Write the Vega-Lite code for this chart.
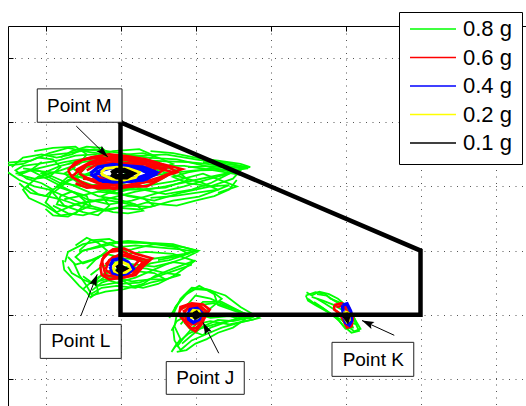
{
  "$schema": "https://vega.github.io/schema/vega-lite/v6.json",
  "width": 525,
  "height": 385,
  "autosize": {"type": "none"},
  "padding": {"left": 8, "top": 26, "right": 0, "bottom": 0},
  "background": "white",
  "config": {
    "view": {"stroke": "black", "strokeWidth": 1},
    "axis": {"title": null, "labels": false, "domain": false, "ticks": true, "tickSize": -5, "tickColor": "black", "tickWidth": 1, "grid": true, "gridDash": [1, 5.5], "gridColor": "#555", "gridWidth": 1}
  },
  "datasets": {
    "tr": [
      {"s":"0.8 g","p":"M1","x":-0.5,"y":3.37},{"s":"0.8 g","p":"M1","x":-0.2,"y":3.4},{"s":"0.8 g","p":"M1","x":0.05,"y":3.52},{"s":"0.8 g","p":"M1","x":0.3,"y":3.6},{"s":"0.8 g","p":"M1","x":0.5,"y":3.55},{"s":"0.8 g","p":"M1","x":0.8,"y":3.5},{"s":"0.8 g","p":"M1","x":1.2,"y":3.47},{"s":"0.8 g","p":"M1","x":1.6,"y":3.5},{"s":"0.8 g","p":"M1","x":2.0,"y":3.42},{"s":"0.8 g","p":"M1","x":2.4,"y":3.35},{"s":"0.8 g","p":"M1","x":2.72,"y":3.3},{"s":"0.8 g","p":"M1","x":2.4,"y":3.2},{"s":"0.8 g","p":"M1","x":2.0,"y":3.1},{"s":"0.8 g","p":"M1","x":1.6,"y":3.0},{"s":"0.8 g","p":"M1","x":1.2,"y":2.92},{"s":"0.8 g","p":"M1","x":0.8,"y":2.8},{"s":"0.8 g","p":"M1","x":0.4,"y":2.72},{"s":"0.8 g","p":"M1","x":0.15,"y":2.6},{"s":"0.8 g","p":"M1","x":0.0,"y":2.75},{"s":"0.8 g","p":"M1","x":0.1,"y":2.95},{"s":"0.8 g","p":"M1","x":0.3,"y":3.1},{"s":"0.8 g","p":"M1","x":0.6,"y":3.2},
      {"s":"0.8 g","p":"M2","x":-0.15,"y":3.55},{"s":"0.8 g","p":"M2","x":0.1,"y":3.6},{"s":"0.8 g","p":"M2","x":0.4,"y":3.62},{"s":"0.8 g","p":"M2","x":0.55,"y":3.5},{"s":"0.8 g","p":"M2","x":0.45,"y":3.35},{"s":"0.8 g","p":"M2","x":0.2,"y":3.25},{"s":"0.8 g","p":"M2","x":-0.1,"y":3.15},{"s":"0.8 g","p":"M2","x":-0.25,"y":3.0},{"s":"0.8 g","p":"M2","x":-0.1,"y":2.88},{"s":"0.8 g","p":"M2","x":0.2,"y":2.8},{"s":"0.8 g","p":"M2","x":0.5,"y":2.68},{"s":"0.8 g","p":"M2","x":0.8,"y":2.62},{"s":"0.8 g","p":"M2","x":1.1,"y":2.7},{"s":"0.8 g","p":"M2","x":1.4,"y":2.68},{"s":"0.8 g","p":"M2","x":1.7,"y":2.78},{"s":"0.8 g","p":"M2","x":2.05,"y":2.84},{"s":"0.8 g","p":"M2","x":2.3,"y":2.95},{"s":"0.8 g","p":"M2","x":2.1,"y":3.05},{"s":"0.8 g","p":"M2","x":1.8,"y":3.15},{"s":"0.8 g","p":"M2","x":1.5,"y":3.25},{"s":"0.8 g","p":"M2","x":1.3,"y":3.38},{"s":"0.8 g","p":"M2","x":1.0,"y":3.42},{"s":"0.8 g","p":"M2","x":0.7,"y":3.4},
      {"s":"0.8 g","p":"M3","x":-0.4,"y":3.2},{"s":"0.8 g","p":"M3","x":-0.1,"y":3.28},{"s":"0.8 g","p":"M3","x":0.25,"y":3.38},{"s":"0.8 g","p":"M3","x":0.6,"y":3.45},{"s":"0.8 g","p":"M3","x":0.9,"y":3.55},{"s":"0.8 g","p":"M3","x":1.25,"y":3.58},{"s":"0.8 g","p":"M3","x":1.45,"y":3.48},{"s":"0.8 g","p":"M3","x":1.3,"y":3.35},{"s":"0.8 g","p":"M3","x":0.95,"y":3.3},{"s":"0.8 g","p":"M3","x":0.6,"y":3.22},{"s":"0.8 g","p":"M3","x":0.3,"y":3.08},{"s":"0.8 g","p":"M3","x":0.1,"y":2.9},{"s":"0.8 g","p":"M3","x":0.25,"y":2.7},{"s":"0.8 g","p":"M3","x":0.5,"y":2.6},{"s":"0.8 g","p":"M3","x":0.7,"y":2.55},{"s":"0.8 g","p":"M3","x":0.85,"y":2.7},{"s":"0.8 g","p":"M3","x":0.75,"y":2.85},{"s":"0.8 g","p":"M3","x":0.95,"y":2.95},{"s":"0.8 g","p":"M3","x":1.3,"y":3.0},{"s":"0.8 g","p":"M3","x":1.7,"y":3.08},{"s":"0.8 g","p":"M3","x":2.1,"y":3.2},{"s":"0.8 g","p":"M3","x":2.55,"y":3.0},{"s":"0.8 g","p":"M3","x":2.3,"y":2.9},
      {"s":"0.8 g","p":"M4","x":-0.2,"y":3.05},{"s":"0.8 g","p":"M4","x":-0.3,"y":2.95},{"s":"0.8 g","p":"M4","x":-0.22,"y":2.82},{"s":"0.8 g","p":"M4","x":0.0,"y":2.7},{"s":"0.8 g","p":"M4","x":0.2,"y":2.55},{"s":"0.8 g","p":"M4","x":0.4,"y":2.58},{"s":"0.8 g","p":"M4","x":0.55,"y":2.75},{"s":"0.8 g","p":"M4","x":0.4,"y":2.9},{"s":"0.8 g","p":"M4","x":0.15,"y":3.0},{"s":"0.8 g","p":"M4","x":0.3,"y":3.15},{"s":"0.8 g","p":"M4","x":0.55,"y":3.05},{"s":"0.8 g","p":"M4","x":0.8,"y":2.95},{"s":"0.8 g","p":"M4","x":1.1,"y":2.85},{"s":"0.8 g","p":"M4","x":1.45,"y":2.78},{"s":"0.8 g","p":"M4","x":1.8,"y":2.9},{"s":"0.8 g","p":"M4","x":2.2,"y":3.0},{"s":"0.8 g","p":"M4","x":2.5,"y":3.12},{"s":"0.8 g","p":"M4","x":2.6,"y":3.25},{"s":"0.8 g","p":"M4","x":2.3,"y":3.32},{"s":"0.8 g","p":"M4","x":1.9,"y":3.3},
      {"s":"0.8 g","p":"M5","x":0.0,"y":3.48},{"s":"0.8 g","p":"M5","x":0.3,"y":3.52},{"s":"0.8 g","p":"M5","x":0.65,"y":3.58},{"s":"0.8 g","p":"M5","x":1.0,"y":3.52},{"s":"0.8 g","p":"M5","x":1.35,"y":3.45},{"s":"0.8 g","p":"M5","x":1.75,"y":3.42},{"s":"0.8 g","p":"M5","x":2.2,"y":3.3},{"s":"0.8 g","p":"M5","x":2.5,"y":3.22},{"s":"0.8 g","p":"M5","x":2.2,"y":3.12},{"s":"0.8 g","p":"M5","x":1.85,"y":3.0},{"s":"0.8 g","p":"M5","x":1.5,"y":2.9},{"s":"0.8 g","p":"M5","x":1.15,"y":2.78},{"s":"0.8 g","p":"M5","x":0.85,"y":2.72},{"s":"0.8 g","p":"M5","x":0.55,"y":2.8},{"s":"0.8 g","p":"M5","x":0.3,"y":2.95},{"s":"0.8 g","p":"M5","x":0.05,"y":3.1},{"s":"0.8 g","p":"M5","x":-0.2,"y":3.25},{"s":"0.8 g","p":"M5","x":-0.05,"y":3.38},
      {"s":"0.8 g","p":"M6","x":0.6,"y":3.35},{"s":"0.8 g","p":"M6","x":1.0,"y":3.38},{"s":"0.8 g","p":"M6","x":1.4,"y":3.4},{"s":"0.8 g","p":"M6","x":1.9,"y":3.38},{"s":"0.8 g","p":"M6","x":2.35,"y":3.33},{"s":"0.8 g","p":"M6","x":2.7,"y":3.28},{"s":"0.8 g","p":"M6","x":2.45,"y":3.26},{"s":"0.8 g","p":"M6","x":2.0,"y":3.25},{"s":"0.8 g","p":"M6","x":1.6,"y":3.2},{"s":"0.8 g","p":"M6","x":1.2,"y":3.12},{"s":"0.8 g","p":"M6","x":0.85,"y":3.05},{"s":"0.8 g","p":"M6","x":0.5,"y":3.0},{"s":"0.8 g","p":"M6","x":0.2,"y":3.05},{"s":"0.8 g","p":"M6","x":-0.05,"y":3.2},{"s":"0.8 g","p":"M6","x":0.2,"y":3.32},{"s":"0.8 g","p":"M6","x":0.55,"y":3.42},{"s":"0.8 g","p":"M6","x":0.8,"y":3.52},
      {"s":"0.8 g","p":"M7","x":-0.5,"y":3.33},{"s":"0.8 g","p":"M7","x":-0.3,"y":3.35},{"s":"0.8 g","p":"M7","x":-0.1,"y":3.45},{"s":"0.8 g","p":"M7","x":0.1,"y":3.42},{"s":"0.8 g","p":"M7","x":0.2,"y":3.3},{"s":"0.8 g","p":"M7","x":0.05,"y":3.15},{"s":"0.8 g","p":"M7","x":-0.15,"y":3.12},{"s":"0.8 g","p":"M7","x":-0.35,"y":3.18},{"s":"0.8 g","p":"M7","x":-0.2,"y":3.25},{"s":"0.8 g","p":"M7","x":0.1,"y":3.22},{"s":"0.8 g","p":"M7","x":0.35,"y":3.18},{"s":"0.8 g","p":"M7","x":0.6,"y":3.1},{"s":"0.8 g","p":"M7","x":0.9,"y":3.15},
      {"s":"0.8 g","p":"M8","x":0.1,"y":2.7},{"s":"0.8 g","p":"M8","x":0.3,"y":2.58},{"s":"0.8 g","p":"M8","x":0.5,"y":2.55},{"s":"0.8 g","p":"M8","x":0.7,"y":2.62},{"s":"0.8 g","p":"M8","x":0.95,"y":2.67},{"s":"0.8 g","p":"M8","x":1.25,"y":2.64},{"s":"0.8 g","p":"M8","x":1.45,"y":2.7},{"s":"0.8 g","p":"M8","x":1.3,"y":2.82},{"s":"0.8 g","p":"M8","x":1.0,"y":2.88},{"s":"0.8 g","p":"M8","x":0.7,"y":2.92},{"s":"0.8 g","p":"M8","x":0.45,"y":2.85},{"s":"0.8 g","p":"M8","x":0.25,"y":2.8},
      {"s":"0.8 g","p":"M9","x":0.3,"y":3.35},{"s":"0.8 g","p":"M9","x":0.6,"y":3.45},{"s":"0.8 g","p":"M9","x":1.0,"y":3.47},{"s":"0.8 g","p":"M9","x":1.4,"y":3.35},{"s":"0.8 g","p":"M9","x":1.75,"y":3.25},{"s":"0.8 g","p":"M9","x":1.9,"y":3.1},{"s":"0.8 g","p":"M9","x":1.6,"y":2.98},{"s":"0.8 g","p":"M9","x":1.2,"y":2.95},{"s":"0.8 g","p":"M9","x":0.8,"y":2.95},{"s":"0.8 g","p":"M9","x":0.45,"y":3.05},{"s":"0.8 g","p":"M9","x":0.25,"y":3.2},{"s":"0.8 g","p":"M9","x":0.4,"y":3.3},
      {"s":"0.8 g","p":"M10","x":-0.45,"y":3.3},{"s":"0.8 g","p":"M10","x":-0.3,"y":3.45},{"s":"0.8 g","p":"M10","x":-0.05,"y":3.5},{"s":"0.8 g","p":"M10","x":0.15,"y":3.45},{"s":"0.8 g","p":"M10","x":0.35,"y":3.5},{"s":"0.8 g","p":"M10","x":0.5,"y":3.58},{"s":"0.8 g","p":"M10","x":0.75,"y":3.55},{"s":"0.8 g","p":"M10","x":0.95,"y":3.45},{"s":"0.8 g","p":"M10","x":1.1,"y":3.5},{"s":"0.8 g","p":"M10","x":1.3,"y":3.52},{"s":"0.8 g","p":"M10","x":1.5,"y":3.45},{"s":"0.8 g","p":"M10","x":1.7,"y":3.35},{"s":"0.8 g","p":"M10","x":1.55,"y":3.28},{"s":"0.8 g","p":"M10","x":1.3,"y":3.25},{"s":"0.8 g","p":"M10","x":1.05,"y":3.2},
      {"s":"0.8 g","p":"M11","x":0.0,"y":2.65},{"s":"0.8 g","p":"M11","x":0.1,"y":2.55},{"s":"0.8 g","p":"M11","x":0.3,"y":2.53},{"s":"0.8 g","p":"M11","x":0.45,"y":2.62},{"s":"0.8 g","p":"M11","x":0.6,"y":2.7},{"s":"0.8 g","p":"M11","x":0.55,"y":2.85},{"s":"0.8 g","p":"M11","x":0.35,"y":2.92},{"s":"0.8 g","p":"M11","x":0.2,"y":2.85},{"s":"0.8 g","p":"M11","x":0.15,"y":2.72},{"s":"0.8 g","p":"M11","x":0.3,"y":2.68},{"s":"0.8 g","p":"M11","x":0.5,"y":2.75},{"s":"0.8 g","p":"M11","x":0.75,"y":2.8},{"s":"0.8 g","p":"M11","x":1.0,"y":2.75},{"s":"0.8 g","p":"M11","x":1.2,"y":2.7},{"s":"0.8 g","p":"M11","x":1.35,"y":2.75},{"s":"0.8 g","p":"M11","x":1.55,"y":2.72},{"s":"0.8 g","p":"M11","x":1.75,"y":2.7},{"s":"0.8 g","p":"M11","x":2.0,"y":2.78},{"s":"0.8 g","p":"M11","x":2.25,"y":2.85},{"s":"0.8 g","p":"M11","x":2.45,"y":2.95},{"s":"0.8 g","p":"M11","x":2.55,"y":3.1},
      {"s":"0.8 g","p":"M12","x":-0.35,"y":3.05},{"s":"0.8 g","p":"M12","x":-0.2,"y":2.9},{"s":"0.8 g","p":"M12","x":0.0,"y":2.85},{"s":"0.8 g","p":"M12","x":0.1,"y":2.95},{"s":"0.8 g","p":"M12","x":-0.05,"y":3.05},{"s":"0.8 g","p":"M12","x":-0.25,"y":3.12},{"s":"0.8 g","p":"M12","x":-0.4,"y":3.25},{"s":"0.8 g","p":"M12","x":-0.3,"y":3.32},{"s":"0.8 g","p":"M12","x":-0.1,"y":3.35},{"s":"0.8 g","p":"M12","x":0.15,"y":3.4},{"s":"0.8 g","p":"M12","x":0.4,"y":3.48},{"s":"0.8 g","p":"M12","x":0.65,"y":3.5},{"s":"0.8 g","p":"M12","x":0.9,"y":3.42},{"s":"0.8 g","p":"M12","x":1.15,"y":3.38},{"s":"0.8 g","p":"M12","x":1.45,"y":3.32},{"s":"0.8 g","p":"M12","x":1.85,"y":3.32},{"s":"0.8 g","p":"M12","x":2.25,"y":3.25},{"s":"0.8 g","p":"M12","x":2.6,"y":3.18},
      {"s":"0.8 g","p":"M13","x":0.2,"y":3.45},{"s":"0.8 g","p":"M13","x":0.35,"y":3.55},{"s":"0.8 g","p":"M13","x":0.55,"y":3.62},{"s":"0.8 g","p":"M13","x":0.75,"y":3.6},{"s":"0.8 g","p":"M13","x":0.85,"y":3.5},{"s":"0.8 g","p":"M13","x":0.7,"y":3.42},{"s":"0.8 g","p":"M13","x":0.5,"y":3.38},{"s":"0.8 g","p":"M13","x":0.35,"y":3.3},{"s":"0.8 g","p":"M13","x":0.45,"y":3.2},{"s":"0.8 g","p":"M13","x":0.7,"y":3.15},{"s":"0.8 g","p":"M13","x":1.0,"y":3.05},{"s":"0.8 g","p":"M13","x":1.3,"y":2.95},{"s":"0.8 g","p":"M13","x":1.6,"y":2.88},{"s":"0.8 g","p":"M13","x":1.95,"y":2.95},{"s":"0.8 g","p":"M13","x":2.2,"y":3.05},{"s":"0.8 g","p":"M13","x":2.45,"y":3.2},{"s":"0.8 g","p":"M13","x":2.65,"y":3.3},{"s":"0.8 g","p":"M13","x":2.4,"y":3.38},{"s":"0.8 g","p":"M13","x":2.1,"y":3.38},
      {"s":"0.8 g","p":"M14","x":1.4,"y":3.55},{"s":"0.8 g","p":"M14","x":1.7,"y":3.52},{"s":"0.8 g","p":"M14","x":2.0,"y":3.45},{"s":"0.8 g","p":"M14","x":2.3,"y":3.4},{"s":"0.8 g","p":"M14","x":2.6,"y":3.35},{"s":"0.8 g","p":"M14","x":2.73,"y":3.3},{"s":"0.8 g","p":"M14","x":2.5,"y":3.3},{"s":"0.8 g","p":"M14","x":2.2,"y":3.28},{"s":"0.8 g","p":"M14","x":1.9,"y":3.22},{"s":"0.8 g","p":"M14","x":1.7,"y":3.15},{"s":"0.8 g","p":"M14","x":1.9,"y":3.05},{"s":"0.8 g","p":"M14","x":2.2,"y":3.0},{"s":"0.8 g","p":"M14","x":2.45,"y":3.02},{"s":"0.8 g","p":"M14","x":2.3,"y":2.95},{"s":"0.8 g","p":"M14","x":2.0,"y":2.9},{"s":"0.8 g","p":"M14","x":1.7,"y":2.85},{"s":"0.8 g","p":"M14","x":1.4,"y":2.82},
      {"s":"0.8 g","p":"M15","x":-0.5,"y":3.22},{"s":"0.8 g","p":"M15","x":-0.35,"y":3.1},{"s":"0.8 g","p":"M15","x":-0.15,"y":3.0},{"s":"0.8 g","p":"M15","x":0.05,"y":2.95},{"s":"0.8 g","p":"M15","x":0.25,"y":2.85},{"s":"0.8 g","p":"M15","x":0.45,"y":2.75},{"s":"0.8 g","p":"M15","x":0.65,"y":2.68},{"s":"0.8 g","p":"M15","x":0.9,"y":2.6},{"s":"0.8 g","p":"M15","x":1.1,"y":2.58},{"s":"0.8 g","p":"M15","x":1.3,"y":2.62},{"s":"0.8 g","p":"M15","x":1.2,"y":2.72},{"s":"0.8 g","p":"M15","x":0.95,"y":2.8},{"s":"0.8 g","p":"M15","x":0.7,"y":2.85},{"s":"0.8 g","p":"M15","x":0.5,"y":2.95},{"s":"0.8 g","p":"M15","x":0.3,"y":3.05},{"s":"0.8 g","p":"M15","x":0.1,"y":3.15},{"s":"0.8 g","p":"M15","x":-0.1,"y":3.25},{"s":"0.8 g","p":"M15","x":-0.3,"y":3.28},
      {"s":"0.8 g","p":"M16","x":0.55,"y":3.3},{"s":"0.8 g","p":"M16","x":0.8,"y":3.35},{"s":"0.8 g","p":"M16","x":1.1,"y":3.4},{"s":"0.8 g","p":"M16","x":1.35,"y":3.28},{"s":"0.8 g","p":"M16","x":1.6,"y":3.15},{"s":"0.8 g","p":"M16","x":1.45,"y":3.05},{"s":"0.8 g","p":"M16","x":1.2,"y":2.98},{"s":"0.8 g","p":"M16","x":0.95,"y":2.9},{"s":"0.8 g","p":"M16","x":0.7,"y":2.95},{"s":"0.8 g","p":"M16","x":0.5,"y":3.05},{"s":"0.8 g","p":"M16","x":0.4,"y":3.15},{"s":"0.8 g","p":"M16","x":0.55,"y":3.3},
      {"s":"0.8 g","p":"L1","x":0.26,"y":1.82},{"s":"0.8 g","p":"L1","x":0.3,"y":1.98},{"s":"0.8 g","p":"L1","x":0.5,"y":2.1},{"s":"0.8 g","p":"L1","x":0.75,"y":2.15},{"s":"0.8 g","p":"L1","x":0.95,"y":2.05},{"s":"0.8 g","p":"L1","x":1.2,"y":2.08},{"s":"0.8 g","p":"L1","x":1.5,"y":2.05},{"s":"0.8 g","p":"L1","x":1.8,"y":2.02},{"s":"0.8 g","p":"L1","x":2.02,"y":1.98},{"s":"0.8 g","p":"L1","x":1.85,"y":1.88},{"s":"0.8 g","p":"L1","x":1.6,"y":1.78},{"s":"0.8 g","p":"L1","x":1.4,"y":1.68},{"s":"0.8 g","p":"L1","x":1.2,"y":1.58},{"s":"0.8 g","p":"L1","x":0.95,"y":1.5},{"s":"0.8 g","p":"L1","x":0.7,"y":1.45},{"s":"0.8 g","p":"L1","x":0.5,"y":1.55},{"s":"0.8 g","p":"L1","x":0.35,"y":1.65},{"s":"0.8 g","p":"L1","x":0.3,"y":1.75},
      {"s":"0.8 g","p":"L2","x":0.45,"y":2.0},{"s":"0.8 g","p":"L2","x":0.6,"y":2.16},{"s":"0.8 g","p":"L2","x":0.85,"y":2.18},{"s":"0.8 g","p":"L2","x":1.0,"y":2.1},{"s":"0.8 g","p":"L2","x":1.1,"y":1.95},{"s":"0.8 g","p":"L2","x":1.35,"y":1.98},{"s":"0.8 g","p":"L2","x":1.7,"y":1.95},{"s":"0.8 g","p":"L2","x":1.98,"y":1.84},{"s":"0.8 g","p":"L2","x":1.7,"y":1.72},{"s":"0.8 g","p":"L2","x":1.45,"y":1.6},{"s":"0.8 g","p":"L2","x":1.3,"y":1.48},{"s":"0.8 g","p":"L2","x":1.05,"y":1.4},{"s":"0.8 g","p":"L2","x":0.8,"y":1.36},{"s":"0.8 g","p":"L2","x":0.62,"y":1.3},{"s":"0.8 g","p":"L2","x":0.55,"y":1.45},{"s":"0.8 g","p":"L2","x":0.45,"y":1.62},{"s":"0.8 g","p":"L2","x":0.38,"y":1.8},
      {"s":"0.8 g","p":"L3","x":0.55,"y":1.72},{"s":"0.8 g","p":"L3","x":0.7,"y":1.9},{"s":"0.8 g","p":"L3","x":0.9,"y":2.0},{"s":"0.8 g","p":"L3","x":1.15,"y":2.02},{"s":"0.8 g","p":"L3","x":1.45,"y":2.1},{"s":"0.8 g","p":"L3","x":1.75,"y":2.05},{"s":"0.8 g","p":"L3","x":1.9,"y":1.95},{"s":"0.8 g","p":"L3","x":1.65,"y":1.85},{"s":"0.8 g","p":"L3","x":1.4,"y":1.8},{"s":"0.8 g","p":"L3","x":1.2,"y":1.7},{"s":"0.8 g","p":"L3","x":1.0,"y":1.6},{"s":"0.8 g","p":"L3","x":0.8,"y":1.55},{"s":"0.8 g","p":"L3","x":0.62,"y":1.5},{"s":"0.8 g","p":"L3","x":0.5,"y":1.6},
      {"s":"0.8 g","p":"L4","x":0.6,"y":1.32},{"s":"0.8 g","p":"L4","x":0.75,"y":1.42},{"s":"0.8 g","p":"L4","x":0.95,"y":1.45},{"s":"0.8 g","p":"L4","x":1.2,"y":1.42},{"s":"0.8 g","p":"L4","x":1.4,"y":1.5},{"s":"0.8 g","p":"L4","x":1.6,"y":1.55},{"s":"0.8 g","p":"L4","x":1.45,"y":1.65},{"s":"0.8 g","p":"L4","x":1.2,"y":1.68},{"s":"0.8 g","p":"L4","x":0.95,"y":1.7},{"s":"0.8 g","p":"L4","x":0.75,"y":1.62},{"s":"0.8 g","p":"L4","x":0.65,"y":1.5},
      {"s":"0.8 g","p":"L5","x":0.3,"y":1.9},{"s":"0.8 g","p":"L5","x":0.4,"y":1.78},{"s":"0.8 g","p":"L5","x":0.6,"y":1.85},{"s":"0.8 g","p":"L5","x":0.8,"y":1.95},{"s":"0.8 g","p":"L5","x":1.05,"y":1.88},{"s":"0.8 g","p":"L5","x":1.3,"y":1.85},{"s":"0.8 g","p":"L5","x":1.6,"y":1.9},{"s":"0.8 g","p":"L5","x":1.85,"y":1.95},{"s":"0.8 g","p":"L5","x":2.0,"y":2.0},{"s":"0.8 g","p":"L5","x":1.7,"y":2.1},{"s":"0.8 g","p":"L5","x":1.4,"y":2.12},{"s":"0.8 g","p":"L5","x":1.1,"y":2.15},{"s":"0.8 g","p":"L5","x":0.85,"y":2.12},{"s":"0.8 g","p":"L5","x":0.65,"y":2.05},{"s":"0.8 g","p":"L5","x":0.45,"y":1.98},
      {"s":"0.8 g","p":"L6","x":0.8,"y":1.55},{"s":"0.8 g","p":"L6","x":1.0,"y":1.48},{"s":"0.8 g","p":"L6","x":1.25,"y":1.5},{"s":"0.8 g","p":"L6","x":1.5,"y":1.6},{"s":"0.8 g","p":"L6","x":1.75,"y":1.7},{"s":"0.8 g","p":"L6","x":1.95,"y":1.78},{"s":"0.8 g","p":"L6","x":1.7,"y":1.82},{"s":"0.8 g","p":"L6","x":1.45,"y":1.75},{"s":"0.8 g","p":"L6","x":1.2,"y":1.78},{"s":"0.8 g","p":"L6","x":0.95,"y":1.82},{"s":"0.8 g","p":"L6","x":0.75,"y":1.75},{"s":"0.8 g","p":"L6","x":0.6,"y":1.62},
      {"s":"0.8 g","p":"L7","x":0.23,"y":1.85},{"s":"0.8 g","p":"L7","x":0.25,"y":1.7},{"s":"0.8 g","p":"L7","x":0.35,"y":1.58},{"s":"0.8 g","p":"L7","x":0.45,"y":1.45},{"s":"0.8 g","p":"L7","x":0.55,"y":1.35},{"s":"0.8 g","p":"L7","x":0.6,"y":1.27},{"s":"0.8 g","p":"L7","x":0.7,"y":1.35},{"s":"0.8 g","p":"L7","x":0.68,"y":1.5},{"s":"0.8 g","p":"L7","x":0.8,"y":1.6},{"s":"0.8 g","p":"L7","x":1.0,"y":1.55},{"s":"0.8 g","p":"L7","x":1.15,"y":1.45},{"s":"0.8 g","p":"L7","x":1.3,"y":1.42},{"s":"0.8 g","p":"L7","x":1.5,"y":1.48},{"s":"0.8 g","p":"L7","x":1.7,"y":1.6},{"s":"0.8 g","p":"L7","x":1.85,"y":1.72},{"s":"0.8 g","p":"L7","x":2.0,"y":1.85},
      {"s":"0.8 g","p":"L8","x":0.4,"y":2.08},{"s":"0.8 g","p":"L8","x":0.55,"y":2.2},{"s":"0.8 g","p":"L8","x":0.7,"y":2.12},{"s":"0.8 g","p":"L8","x":0.82,"y":2.0},{"s":"0.8 g","p":"L8","x":0.7,"y":1.88},{"s":"0.8 g","p":"L8","x":0.5,"y":1.8},{"s":"0.8 g","p":"L8","x":0.4,"y":1.9},{"s":"0.8 g","p":"L8","x":0.5,"y":2.0},{"s":"0.8 g","p":"L8","x":0.7,"y":2.05},{"s":"0.8 g","p":"L8","x":0.95,"y":2.12},{"s":"0.8 g","p":"L8","x":1.25,"y":2.12},{"s":"0.8 g","p":"L8","x":1.55,"y":2.1},{"s":"0.8 g","p":"L8","x":1.85,"y":2.05},{"s":"0.8 g","p":"L8","x":2.03,"y":2.0},{"s":"0.8 g","p":"L8","x":1.8,"y":1.92},{"s":"0.8 g","p":"L8","x":1.5,"y":1.85},
      {"s":"0.8 g","p":"L9","x":0.5,"y":1.4},{"s":"0.8 g","p":"L9","x":0.65,"y":1.55},{"s":"0.8 g","p":"L9","x":0.85,"y":1.68},{"s":"0.8 g","p":"L9","x":1.1,"y":1.75},{"s":"0.8 g","p":"L9","x":1.35,"y":1.72},{"s":"0.8 g","p":"L9","x":1.6,"y":1.65},{"s":"0.8 g","p":"L9","x":1.8,"y":1.62},{"s":"0.8 g","p":"L9","x":1.6,"y":1.55},{"s":"0.8 g","p":"L9","x":1.4,"y":1.55},{"s":"0.8 g","p":"L9","x":1.15,"y":1.52},{"s":"0.8 g","p":"L9","x":0.95,"y":1.58},{"s":"0.8 g","p":"L9","x":0.75,"y":1.5},{"s":"0.8 g","p":"L9","x":0.62,"y":1.38},
      {"s":"0.8 g","p":"J1","x":1.7,"y":1.0},{"s":"0.8 g","p":"J1","x":1.8,"y":1.25},{"s":"0.8 g","p":"J1","x":1.95,"y":1.42},{"s":"0.8 g","p":"J1","x":2.15,"y":1.4},{"s":"0.8 g","p":"J1","x":2.4,"y":1.3},{"s":"0.8 g","p":"J1","x":2.6,"y":1.12},{"s":"0.8 g","p":"J1","x":2.85,"y":0.95},{"s":"0.8 g","p":"J1","x":2.6,"y":0.88},{"s":"0.8 g","p":"J1","x":2.35,"y":0.8},{"s":"0.8 g","p":"J1","x":2.15,"y":0.7},{"s":"0.8 g","p":"J1","x":1.95,"y":0.6},{"s":"0.8 g","p":"J1","x":1.8,"y":0.45},{"s":"0.8 g","p":"J1","x":1.72,"y":0.6},{"s":"0.8 g","p":"J1","x":1.7,"y":0.8},
      {"s":"0.8 g","p":"J2","x":1.85,"y":1.1},{"s":"0.8 g","p":"J2","x":2.0,"y":1.3},{"s":"0.8 g","p":"J2","x":2.2,"y":1.25},{"s":"0.8 g","p":"J2","x":2.45,"y":1.12},{"s":"0.8 g","p":"J2","x":2.7,"y":1.0},{"s":"0.8 g","p":"J2","x":2.5,"y":0.92},{"s":"0.8 g","p":"J2","x":2.25,"y":0.85},{"s":"0.8 g","p":"J2","x":2.05,"y":0.78},{"s":"0.8 g","p":"J2","x":1.9,"y":0.7},{"s":"0.8 g","p":"J2","x":1.75,"y":0.55},{"s":"0.8 g","p":"J2","x":1.68,"y":0.42},{"s":"0.8 g","p":"J2","x":1.8,"y":0.62},{"s":"0.8 g","p":"J2","x":1.72,"y":0.82},{"s":"0.8 g","p":"J2","x":1.75,"y":1.0},
      {"s":"0.8 g","p":"J3","x":1.65,"y":0.95},{"s":"0.8 g","p":"J3","x":1.75,"y":1.15},{"s":"0.8 g","p":"J3","x":1.9,"y":1.35},{"s":"0.8 g","p":"J3","x":2.05,"y":1.45},{"s":"0.8 g","p":"J3","x":2.25,"y":1.32},{"s":"0.8 g","p":"J3","x":2.3,"y":1.15},{"s":"0.8 g","p":"J3","x":2.55,"y":1.05},{"s":"0.8 g","p":"J3","x":2.8,"y":0.98},{"s":"0.8 g","p":"J3","x":2.6,"y":0.95},{"s":"0.8 g","p":"J3","x":2.4,"y":0.88},{"s":"0.8 g","p":"J3","x":2.2,"y":0.8},{"s":"0.8 g","p":"J3","x":2.1,"y":0.68},{"s":"0.8 g","p":"J3","x":1.95,"y":0.75},{"s":"0.8 g","p":"J3","x":1.85,"y":0.88},
      {"s":"0.8 g","p":"J4","x":1.8,"y":0.85},{"s":"0.8 g","p":"J4","x":1.95,"y":1.05},{"s":"0.8 g","p":"J4","x":2.1,"y":1.2},{"s":"0.8 g","p":"J4","x":2.35,"y":1.2},{"s":"0.8 g","p":"J4","x":2.6,"y":1.05},{"s":"0.8 g","p":"J4","x":2.75,"y":0.92},{"s":"0.8 g","p":"J4","x":2.45,"y":0.85},{"s":"0.8 g","p":"J4","x":2.2,"y":0.9},{"s":"0.8 g","p":"J4","x":2.0,"y":0.85},{"s":"0.8 g","p":"J4","x":1.85,"y":0.65},{"s":"0.8 g","p":"J4","x":1.75,"y":0.5},
      {"s":"0.8 g","p":"J5","x":1.72,"y":1.1},{"s":"0.8 g","p":"J5","x":1.85,"y":1.3},{"s":"0.8 g","p":"J5","x":2.0,"y":1.4},{"s":"0.8 g","p":"J5","x":2.2,"y":1.38},{"s":"0.8 g","p":"J5","x":2.35,"y":1.25},{"s":"0.8 g","p":"J5","x":2.2,"y":1.1},{"s":"0.8 g","p":"J5","x":2.05,"y":1.0},{"s":"0.8 g","p":"J5","x":2.2,"y":0.95},{"s":"0.8 g","p":"J5","x":2.45,"y":0.98},{"s":"0.8 g","p":"J5","x":2.65,"y":0.92},{"s":"0.8 g","p":"J5","x":2.5,"y":0.8},{"s":"0.8 g","p":"J5","x":2.3,"y":0.72},{"s":"0.8 g","p":"J5","x":2.15,"y":0.62},{"s":"0.8 g","p":"J5","x":2.0,"y":0.55},{"s":"0.8 g","p":"J5","x":1.88,"y":0.45},{"s":"0.8 g","p":"J5","x":1.75,"y":0.42},
      {"s":"0.8 g","p":"J6","x":1.68,"y":0.75},{"s":"0.8 g","p":"J6","x":1.75,"y":0.9},{"s":"0.8 g","p":"J6","x":1.9,"y":1.0},{"s":"0.8 g","p":"J6","x":2.05,"y":1.15},{"s":"0.8 g","p":"J6","x":2.25,"y":1.18},{"s":"0.8 g","p":"J6","x":2.5,"y":1.1},{"s":"0.8 g","p":"J6","x":2.75,"y":0.96},{"s":"0.8 g","p":"J6","x":2.5,"y":0.9},{"s":"0.8 g","p":"J6","x":2.3,"y":0.92},{"s":"0.8 g","p":"J6","x":2.1,"y":0.82},{"s":"0.8 g","p":"J6","x":1.95,"y":0.68},{"s":"0.8 g","p":"J6","x":1.82,"y":0.55},
      {"s":"0.8 g","p":"K1","x":3.47,"y":1.3},{"s":"0.8 g","p":"K1","x":3.6,"y":1.35},{"s":"0.8 g","p":"K1","x":3.72,"y":1.33},{"s":"0.8 g","p":"K1","x":3.8,"y":1.25},{"s":"0.8 g","p":"K1","x":3.95,"y":1.18},{"s":"0.8 g","p":"K1","x":4.05,"y":1.05},{"s":"0.8 g","p":"K1","x":4.12,"y":0.9},{"s":"0.8 g","p":"K1","x":4.18,"y":0.75},{"s":"0.8 g","p":"K1","x":4.08,"y":0.72},{"s":"0.8 g","p":"K1","x":3.98,"y":0.82},{"s":"0.8 g","p":"K1","x":3.88,"y":0.95},{"s":"0.8 g","p":"K1","x":3.75,"y":1.05},{"s":"0.8 g","p":"K1","x":3.6,"y":1.15},{"s":"0.8 g","p":"K1","x":3.5,"y":1.22},{"s":"0.8 g","p":"K1","x":3.47,"y":1.3},
      {"s":"0.8 g","p":"K2","x":3.55,"y":1.28},{"s":"0.8 g","p":"K2","x":3.7,"y":1.22},{"s":"0.8 g","p":"K2","x":3.85,"y":1.15},{"s":"0.8 g","p":"K2","x":3.95,"y":1.08},{"s":"0.8 g","p":"K2","x":4.05,"y":0.95},{"s":"0.8 g","p":"K2","x":4.1,"y":0.8},{"s":"0.8 g","p":"K2","x":4.0,"y":0.78},{"s":"0.8 g","p":"K2","x":3.92,"y":0.9},{"s":"0.8 g","p":"K2","x":3.8,"y":1.02},{"s":"0.8 g","p":"K2","x":3.68,"y":1.12},{"s":"0.8 g","p":"K2","x":3.58,"y":1.2},
      {"s":"0.8 g","p":"K3","x":3.62,"y":1.32},{"s":"0.8 g","p":"K3","x":3.75,"y":1.3},{"s":"0.8 g","p":"K3","x":3.85,"y":1.22},{"s":"0.8 g","p":"K3","x":4.0,"y":1.12},{"s":"0.8 g","p":"K3","x":4.1,"y":1.0},{"s":"0.8 g","p":"K3","x":4.15,"y":0.85},{"s":"0.8 g","p":"K3","x":4.05,"y":0.88},{"s":"0.8 g","p":"K3","x":3.95,"y":1.0},{"s":"0.8 g","p":"K3","x":3.85,"y":1.08},{"s":"0.8 g","p":"K3","x":3.72,"y":1.18},{"s":"0.8 g","p":"K3","x":3.62,"y":1.25},
      {"s":"0.8 g","p":"K4","x":3.48,"y":1.35},{"s":"0.8 g","p":"K4","x":3.55,"y":1.3},{"s":"0.8 g","p":"K4","x":3.65,"y":1.36},{"s":"0.8 g","p":"K4","x":3.78,"y":1.32},{"s":"0.8 g","p":"K4","x":3.9,"y":1.25},{"s":"0.8 g","p":"K4","x":4.0,"y":1.15},{"s":"0.8 g","p":"K4","x":4.08,"y":1.02},{"s":"0.8 g","p":"K4","x":4.15,"y":0.88},{"s":"0.8 g","p":"K4","x":4.2,"y":0.78},{"s":"0.8 g","p":"K4","x":4.12,"y":0.74},{"s":"0.8 g","p":"K4","x":4.05,"y":0.8},{"s":"0.8 g","p":"K4","x":3.95,"y":0.92},{"s":"0.8 g","p":"K4","x":3.82,"y":1.0},{"s":"0.8 g","p":"K4","x":3.7,"y":1.1},{"s":"0.8 g","p":"K4","x":3.58,"y":1.18},{"s":"0.8 g","p":"K4","x":3.5,"y":1.25},
      {"s":"0.6 g","p":"rM1","x":0.3,"y":3.25},{"s":"0.6 g","p":"rM1","x":0.4,"y":3.38},{"s":"0.6 g","p":"rM1","x":0.6,"y":3.45},{"s":"0.6 g","p":"rM1","x":0.85,"y":3.5},{"s":"0.6 g","p":"rM1","x":1.1,"y":3.47},{"s":"0.6 g","p":"rM1","x":1.35,"y":3.42},{"s":"0.6 g","p":"rM1","x":1.55,"y":3.35},{"s":"0.6 g","p":"rM1","x":1.82,"y":3.27},{"s":"0.6 g","p":"rM1","x":1.6,"y":3.18},{"s":"0.6 g","p":"rM1","x":1.45,"y":3.08},{"s":"0.6 g","p":"rM1","x":1.2,"y":3.05},{"s":"0.6 g","p":"rM1","x":0.95,"y":2.98},{"s":"0.6 g","p":"rM1","x":0.7,"y":2.97},{"s":"0.6 g","p":"rM1","x":0.5,"y":3.05},{"s":"0.6 g","p":"rM1","x":0.35,"y":3.15},{"s":"0.6 g","p":"rM1","x":0.3,"y":3.25},
      {"s":"0.6 g","p":"rM2","x":0.45,"y":3.2},{"s":"0.6 g","p":"rM2","x":0.55,"y":3.33},{"s":"0.6 g","p":"rM2","x":0.8,"y":3.4},{"s":"0.6 g","p":"rM2","x":1.05,"y":3.42},{"s":"0.6 g","p":"rM2","x":1.3,"y":3.35},{"s":"0.6 g","p":"rM2","x":1.6,"y":3.28},{"s":"0.6 g","p":"rM2","x":1.5,"y":3.2},{"s":"0.6 g","p":"rM2","x":1.3,"y":3.12},{"s":"0.6 g","p":"rM2","x":1.05,"y":3.08},{"s":"0.6 g","p":"rM2","x":0.8,"y":3.05},{"s":"0.6 g","p":"rM2","x":0.6,"y":3.1},{"s":"0.6 g","p":"rM2","x":0.45,"y":3.2},
      {"s":"0.6 g","p":"rM3","x":0.35,"y":3.3},{"s":"0.6 g","p":"rM3","x":0.5,"y":3.42},{"s":"0.6 g","p":"rM3","x":0.75,"y":3.45},{"s":"0.6 g","p":"rM3","x":0.95,"y":3.38},{"s":"0.6 g","p":"rM3","x":1.2,"y":3.3},{"s":"0.6 g","p":"rM3","x":1.45,"y":3.3},{"s":"0.6 g","p":"rM3","x":1.7,"y":3.22},{"s":"0.6 g","p":"rM3","x":1.55,"y":3.12},{"s":"0.6 g","p":"rM3","x":1.35,"y":3.0},{"s":"0.6 g","p":"rM3","x":1.1,"y":3.0},{"s":"0.6 g","p":"rM3","x":0.85,"y":3.02},{"s":"0.6 g","p":"rM3","x":0.6,"y":3.0},{"s":"0.6 g","p":"rM3","x":0.42,"y":3.1},
      {"s":"0.6 g","p":"rM4","x":0.35,"y":3.15},{"s":"0.6 g","p":"rM4","x":0.5,"y":3.3},{"s":"0.6 g","p":"rM4","x":0.7,"y":3.42},{"s":"0.6 g","p":"rM4","x":0.95,"y":3.48},{"s":"0.6 g","p":"rM4","x":1.2,"y":3.43},{"s":"0.6 g","p":"rM4","x":1.4,"y":3.38},{"s":"0.6 g","p":"rM4","x":1.65,"y":3.3},{"s":"0.6 g","p":"rM4","x":1.75,"y":3.22},{"s":"0.6 g","p":"rM4","x":1.55,"y":3.15},{"s":"0.6 g","p":"rM4","x":1.35,"y":3.08},{"s":"0.6 g","p":"rM4","x":1.15,"y":3.0},{"s":"0.6 g","p":"rM4","x":0.9,"y":2.96},{"s":"0.6 g","p":"rM4","x":0.7,"y":3.05},{"s":"0.6 g","p":"rM4","x":0.55,"y":3.12},
      {"s":"0.6 g","p":"rM5","x":0.4,"y":3.25},{"s":"0.6 g","p":"rM5","x":0.6,"y":3.38},{"s":"0.6 g","p":"rM5","x":0.9,"y":3.45},{"s":"0.6 g","p":"rM5","x":1.2,"y":3.4},{"s":"0.6 g","p":"rM5","x":1.5,"y":3.32},{"s":"0.6 g","p":"rM5","x":1.4,"y":3.22},{"s":"0.6 g","p":"rM5","x":1.2,"y":3.1},{"s":"0.6 g","p":"rM5","x":0.95,"y":3.05},{"s":"0.6 g","p":"rM5","x":0.7,"y":3.08},{"s":"0.6 g","p":"rM5","x":0.5,"y":3.15},
      {"s":"0.6 g","p":"rM6","x":0.55,"y":3.25},{"s":"0.6 g","p":"rM6","x":0.7,"y":3.35},{"s":"0.6 g","p":"rM6","x":0.95,"y":3.38},{"s":"0.6 g","p":"rM6","x":1.2,"y":3.35},{"s":"0.6 g","p":"rM6","x":1.45,"y":3.25},{"s":"0.6 g","p":"rM6","x":1.3,"y":3.15},{"s":"0.6 g","p":"rM6","x":1.05,"y":3.1},{"s":"0.6 g","p":"rM6","x":0.8,"y":3.12},{"s":"0.6 g","p":"rM6","x":0.6,"y":3.18},
      {"s":"0.6 g","p":"rM7","x":0.4,"y":3.05},{"s":"0.6 g","p":"rM7","x":0.55,"y":2.98},{"s":"0.6 g","p":"rM7","x":0.8,"y":3.0},{"s":"0.6 g","p":"rM7","x":1.0,"y":3.05},{"s":"0.6 g","p":"rM7","x":0.75,"y":3.1},{"s":"0.6 g","p":"rM7","x":0.5,"y":3.12},
      {"s":"0.6 g","p":"rL1","x":0.73,"y":1.75},{"s":"0.6 g","p":"rL1","x":0.78,"y":1.92},{"s":"0.6 g","p":"rL1","x":0.9,"y":2.02},{"s":"0.6 g","p":"rL1","x":1.05,"y":2.03},{"s":"0.6 g","p":"rL1","x":1.2,"y":1.95},{"s":"0.6 g","p":"rL1","x":1.42,"y":1.88},{"s":"0.6 g","p":"rL1","x":1.3,"y":1.75},{"s":"0.6 g","p":"rL1","x":1.2,"y":1.62},{"s":"0.6 g","p":"rL1","x":1.05,"y":1.58},{"s":"0.6 g","p":"rL1","x":0.85,"y":1.55},{"s":"0.6 g","p":"rL1","x":0.75,"y":1.62},{"s":"0.6 g","p":"rL1","x":0.73,"y":1.75},
      {"s":"0.6 g","p":"rL2","x":0.8,"y":1.7},{"s":"0.6 g","p":"rL2","x":0.85,"y":1.85},{"s":"0.6 g","p":"rL2","x":1.0,"y":1.95},{"s":"0.6 g","p":"rL2","x":1.15,"y":1.9},{"s":"0.6 g","p":"rL2","x":1.3,"y":1.82},{"s":"0.6 g","p":"rL2","x":1.2,"y":1.7},{"s":"0.6 g","p":"rL2","x":1.05,"y":1.62},{"s":"0.6 g","p":"rL2","x":0.9,"y":1.62},{"s":"0.6 g","p":"rL2","x":0.8,"y":1.7},
      {"s":"0.6 g","p":"rL3","x":0.75,"y":1.85},{"s":"0.6 g","p":"rL3","x":0.85,"y":1.98},{"s":"0.6 g","p":"rL3","x":1.0,"y":2.0},{"s":"0.6 g","p":"rL3","x":1.15,"y":1.92},{"s":"0.6 g","p":"rL3","x":1.35,"y":1.85},{"s":"0.6 g","p":"rL3","x":1.25,"y":1.72},{"s":"0.6 g","p":"rL3","x":1.15,"y":1.62},{"s":"0.6 g","p":"rL3","x":0.95,"y":1.58},{"s":"0.6 g","p":"rL3","x":0.8,"y":1.62},{"s":"0.6 g","p":"rL3","x":0.75,"y":1.85},
      {"s":"0.6 g","p":"rL4","x":0.8,"y":1.78},{"s":"0.6 g","p":"rL4","x":0.9,"y":1.9},{"s":"0.6 g","p":"rL4","x":1.05,"y":1.92},{"s":"0.6 g","p":"rL4","x":1.25,"y":1.85},{"s":"0.6 g","p":"rL4","x":1.15,"y":1.72},{"s":"0.6 g","p":"rL4","x":1.0,"y":1.66},{"s":"0.6 g","p":"rL4","x":0.85,"y":1.68},
      {"s":"0.6 g","p":"rJ1","x":1.78,"y":1.0},{"s":"0.6 g","p":"rJ1","x":1.8,"y":1.12},{"s":"0.6 g","p":"rJ1","x":1.95,"y":1.18},{"s":"0.6 g","p":"rJ1","x":2.1,"y":1.16},{"s":"0.6 g","p":"rJ1","x":2.19,"y":1.08},{"s":"0.6 g","p":"rJ1","x":2.12,"y":0.95},{"s":"0.6 g","p":"rJ1","x":2.08,"y":0.85},{"s":"0.6 g","p":"rJ1","x":2.0,"y":0.74},{"s":"0.6 g","p":"rJ1","x":1.92,"y":0.8},{"s":"0.6 g","p":"rJ1","x":1.85,"y":0.9},{"s":"0.6 g","p":"rJ1","x":1.78,"y":1.0},
      {"s":"0.6 g","p":"rJ2","x":1.85,"y":1.02},{"s":"0.6 g","p":"rJ2","x":1.9,"y":1.12},{"s":"0.6 g","p":"rJ2","x":2.05,"y":1.12},{"s":"0.6 g","p":"rJ2","x":2.12,"y":1.02},{"s":"0.6 g","p":"rJ2","x":2.05,"y":0.9},{"s":"0.6 g","p":"rJ2","x":1.95,"y":0.85},{"s":"0.6 g","p":"rJ2","x":1.88,"y":0.92},{"s":"0.6 g","p":"rJ2","x":1.85,"y":1.02},
      {"s":"0.6 g","p":"rJ3","x":1.8,"y":1.08},{"s":"0.6 g","p":"rJ3","x":1.9,"y":1.16},{"s":"0.6 g","p":"rJ3","x":2.05,"y":1.15},{"s":"0.6 g","p":"rJ3","x":2.15,"y":1.05},{"s":"0.6 g","p":"rJ3","x":2.1,"y":0.92},{"s":"0.6 g","p":"rJ3","x":2.02,"y":0.8},{"s":"0.6 g","p":"rJ3","x":1.95,"y":0.78},{"s":"0.6 g","p":"rJ3","x":1.88,"y":0.88},{"s":"0.6 g","p":"rJ3","x":1.8,"y":0.98},
      {"s":"0.6 g","p":"rJ4","x":1.83,"y":1.05},{"s":"0.6 g","p":"rJ4","x":1.95,"y":1.12},{"s":"0.6 g","p":"rJ4","x":2.08,"y":1.08},{"s":"0.6 g","p":"rJ4","x":2.1,"y":0.98},{"s":"0.6 g","p":"rJ4","x":2.0,"y":0.85},{"s":"0.6 g","p":"rJ4","x":1.9,"y":0.9},
      {"s":"0.6 g","p":"rK1","x":3.85,"y":1.15},{"s":"0.6 g","p":"rK1","x":3.95,"y":1.18},{"s":"0.6 g","p":"rK1","x":4.05,"y":1.1},{"s":"0.6 g","p":"rK1","x":4.1,"y":0.95},{"s":"0.6 g","p":"rK1","x":4.08,"y":0.82},{"s":"0.6 g","p":"rK1","x":4.02,"y":0.8},{"s":"0.6 g","p":"rK1","x":3.98,"y":0.9},{"s":"0.6 g","p":"rK1","x":3.92,"y":1.02},{"s":"0.6 g","p":"rK1","x":3.85,"y":1.08},{"s":"0.6 g","p":"rK1","x":3.85,"y":1.15},
      {"s":"0.6 g","p":"rK2","x":3.88,"y":1.12},{"s":"0.6 g","p":"rK2","x":3.97,"y":1.14},{"s":"0.6 g","p":"rK2","x":4.05,"y":1.0},{"s":"0.6 g","p":"rK2","x":4.06,"y":0.88},{"s":"0.6 g","p":"rK2","x":4.0,"y":0.85},{"s":"0.6 g","p":"rK2","x":3.95,"y":0.97},{"s":"0.6 g","p":"rK2","x":3.88,"y":1.05},
      {"s":"0.4 g","p":"bM1","x":0.6,"y":3.2},{"s":"0.4 g","p":"bM1","x":0.7,"y":3.3},{"s":"0.4 g","p":"bM1","x":0.9,"y":3.34},{"s":"0.4 g","p":"bM1","x":1.1,"y":3.32},{"s":"0.4 g","p":"bM1","x":1.3,"y":3.3},{"s":"0.4 g","p":"bM1","x":1.48,"y":3.22},{"s":"0.4 g","p":"bM1","x":1.35,"y":3.12},{"s":"0.4 g","p":"bM1","x":1.15,"y":3.08},{"s":"0.4 g","p":"bM1","x":0.9,"y":3.07},{"s":"0.4 g","p":"bM1","x":0.72,"y":3.1},{"s":"0.4 g","p":"bM1","x":0.6,"y":3.2},
      {"s":"0.4 g","p":"bM2","x":0.68,"y":3.22},{"s":"0.4 g","p":"bM2","x":0.8,"y":3.28},{"s":"0.4 g","p":"bM2","x":1.0,"y":3.3},{"s":"0.4 g","p":"bM2","x":1.25,"y":3.27},{"s":"0.4 g","p":"bM2","x":1.4,"y":3.2},{"s":"0.4 g","p":"bM2","x":1.25,"y":3.14},{"s":"0.4 g","p":"bM2","x":1.0,"y":3.12},{"s":"0.4 g","p":"bM2","x":0.8,"y":3.15},{"s":"0.4 g","p":"bM2","x":0.68,"y":3.22},
      {"s":"0.4 g","p":"bM3","x":0.62,"y":3.15},{"s":"0.4 g","p":"bM3","x":0.75,"y":3.25},{"s":"0.4 g","p":"bM3","x":1.0,"y":3.33},{"s":"0.4 g","p":"bM3","x":1.3,"y":3.25},{"s":"0.4 g","p":"bM3","x":1.45,"y":3.18},{"s":"0.4 g","p":"bM3","x":1.3,"y":3.1},{"s":"0.4 g","p":"bM3","x":1.0,"y":3.08},{"s":"0.4 g","p":"bM3","x":0.75,"y":3.08},
      {"s":"0.4 g","p":"bL1","x":0.86,"y":1.75},{"s":"0.4 g","p":"bL1","x":0.9,"y":1.85},{"s":"0.4 g","p":"bL1","x":1.0,"y":1.88},{"s":"0.4 g","p":"bL1","x":1.1,"y":1.82},{"s":"0.4 g","p":"bL1","x":1.17,"y":1.72},{"s":"0.4 g","p":"bL1","x":1.1,"y":1.65},{"s":"0.4 g","p":"bL1","x":1.0,"y":1.62},{"s":"0.4 g","p":"bL1","x":0.9,"y":1.65},{"s":"0.4 g","p":"bL1","x":0.86,"y":1.75},
      {"s":"0.4 g","p":"bJ1","x":1.9,"y":1.0},{"s":"0.4 g","p":"bJ1","x":1.93,"y":1.08},{"s":"0.4 g","p":"bJ1","x":2.02,"y":1.1},{"s":"0.4 g","p":"bJ1","x":2.08,"y":1.03},{"s":"0.4 g","p":"bJ1","x":2.05,"y":0.93},{"s":"0.4 g","p":"bJ1","x":1.97,"y":0.88},{"s":"0.4 g","p":"bJ1","x":1.91,"y":0.93},{"s":"0.4 g","p":"bJ1","x":1.9,"y":1.0},
      {"s":"0.4 g","p":"bK1","x":3.96,"y":1.15},{"s":"0.4 g","p":"bK1","x":4.02,"y":1.17},{"s":"0.4 g","p":"bK1","x":4.07,"y":1.05},{"s":"0.4 g","p":"bK1","x":4.08,"y":0.9},{"s":"0.4 g","p":"bK1","x":4.05,"y":0.84},{"s":"0.4 g","p":"bK1","x":4.0,"y":0.88},{"s":"0.4 g","p":"bK1","x":3.97,"y":1.0},{"s":"0.4 g","p":"bK1","x":3.96,"y":1.15},
      {"s":"0.2 g","p":"yM1","x":0.74,"y":3.22},{"s":"0.2 g","p":"yM1","x":0.8,"y":3.28},{"s":"0.2 g","p":"yM1","x":0.95,"y":3.3},{"s":"0.2 g","p":"yM1","x":1.1,"y":3.28},{"s":"0.2 g","p":"yM1","x":1.25,"y":3.22},{"s":"0.2 g","p":"yM1","x":1.2,"y":3.14},{"s":"0.2 g","p":"yM1","x":1.05,"y":3.1},{"s":"0.2 g","p":"yM1","x":0.88,"y":3.12},{"s":"0.2 g","p":"yM1","x":0.76,"y":3.18},{"s":"0.2 g","p":"yM1","x":0.74,"y":3.22},
      {"s":"0.2 g","p":"yL1","x":0.9,"y":1.74},{"s":"0.2 g","p":"yL1","x":0.94,"y":1.8},{"s":"0.2 g","p":"yL1","x":1.02,"y":1.82},{"s":"0.2 g","p":"yL1","x":1.1,"y":1.78},{"s":"0.2 g","p":"yL1","x":1.13,"y":1.71},{"s":"0.2 g","p":"yL1","x":1.07,"y":1.66},{"s":"0.2 g","p":"yL1","x":0.98,"y":1.65},{"s":"0.2 g","p":"yL1","x":0.92,"y":1.68},{"s":"0.2 g","p":"yL1","x":0.9,"y":1.74},
      {"s":"0.2 g","p":"yJ1","x":1.93,"y":1.01},{"s":"0.2 g","p":"yJ1","x":1.97,"y":1.07},{"s":"0.2 g","p":"yJ1","x":2.04,"y":1.06},{"s":"0.2 g","p":"yJ1","x":2.07,"y":1.0},{"s":"0.2 g","p":"yJ1","x":2.02,"y":0.95},{"s":"0.2 g","p":"yJ1","x":1.95,"y":0.96},{"s":"0.2 g","p":"yJ1","x":1.93,"y":1.01},
      {"s":"0.2 g","p":"yK1","x":3.99,"y":1.05},{"s":"0.2 g","p":"yK1","x":4.04,"y":1.02},{"s":"0.2 g","p":"yK1","x":4.05,"y":0.92},{"s":"0.2 g","p":"yK1","x":4.02,"y":0.89},{"s":"0.2 g","p":"yK1","x":3.99,"y":0.95},{"s":"0.2 g","p":"yK1","x":3.99,"y":1.05},
      {"s":"0.1 g","p":"kM","x":0.88,"y":3.2},{"s":"0.1 g","p":"kM","x":0.95,"y":3.25},{"s":"0.1 g","p":"kM","x":1.05,"y":3.25},{"s":"0.1 g","p":"kM","x":1.15,"y":3.2},{"s":"0.1 g","p":"kM","x":1.08,"y":3.15},{"s":"0.1 g","p":"kM","x":0.95,"y":3.15},{"s":"0.1 g","p":"kM","x":0.88,"y":3.2},
      {"s":"0.1 g","p":"kL","x":0.95,"y":1.72},{"s":"0.1 g","p":"kL","x":0.99,"y":1.75},{"s":"0.1 g","p":"kL","x":1.04,"y":1.72},{"s":"0.1 g","p":"kL","x":0.99,"y":1.69},{"s":"0.1 g","p":"kL","x":0.95,"y":1.72},
      {"s":"0.1 g","p":"kJ","x":1.98,"y":1.0},{"s":"0.1 g","p":"kJ","x":2.01,"y":1.02},{"s":"0.1 g","p":"kJ","x":2.03,"y":0.99},{"s":"0.1 g","p":"kJ","x":2.0,"y":0.97},{"s":"0.1 g","p":"kJ","x":1.98,"y":1.0},
      {"s":"0.1 g","p":"kK","x":4.0,"y":1.0},{"s":"0.1 g","p":"kK","x":4.03,"y":0.98},{"s":"0.1 g","p":"kK","x":4.02,"y":0.94},{"s":"0.1 g","p":"kK","x":4.0,"y":0.97},{"s":"0.1 g","p":"kK","x":4.0,"y":1.0}
    ],
    "trap": [
      {"x": 1, "y": 4}, {"x": 5, "y": 2}, {"x": 5, "y": 1}, {"x": 1, "y": 1}, {"x": 1, "y": 4}
    ],
    "boxes": [
      {"t": "Point M", "x1": -0.11, "x2": 1.02, "y1": 4.0, "y2": 4.52, "tx": 0.45, "ty": 4.26},
      {"t": "Point L", "x1": -0.07, "x2": 1.01, "y1": 0.32, "y2": 0.85, "tx": 0.47, "ty": 0.585},
      {"t": "Point J", "x1": 1.61, "x2": 2.65, "y1": -0.24, "y2": 0.27, "tx": 2.13, "ty": 0.015},
      {"t": "Point K", "x1": 3.82, "x2": 4.91, "y1": 0.04, "y2": 0.57, "tx": 4.37, "ty": 0.3}
    ],
    "arrows": [
      {"x": 0.41, "y": 3.94, "x2": 0.83, "y2": 3.46},
      {"x": 0.47, "y": 0.98, "x2": 0.69, "y2": 1.63},
      {"x": 2.31, "y": 0.4, "x2": 2.1, "y2": 0.88},
      {"x": 4.65, "y": 0.68, "x2": 4.22, "y2": 0.91}
    ]
  },
  "layer": [
    {
      "data": {"name": "tr"},
      "transform": [{"filter": "datum.s === '0.8 g'"}],
      "mark": {"type": "line", "strokeWidth": 1.8, "clip": true},
      "encoding": {
        "x": {"field": "x", "type": "quantitative", "scale": {"domain": [-0.5, 6.5], "nice": false, "zero": false}, "axis": {"orient": "top", "values": [0, 1, 2, 3, 4, 5, 6]}},
        "y": {"field": "y", "type": "quantitative", "scale": {"domain": [-0.5, 5.5], "nice": false, "zero": false}, "axis": {"orient": "left", "values": [0, 1, 2, 3, 4, 5]}},
        "color": {"field": "s", "type": "nominal",
          "scale": {"domain": ["0.8 g", "0.6 g", "0.4 g", "0.2 g", "0.1 g"], "range": ["#00ff00", "#ff0000", "#0000ff", "#ffff00", "#000000"]},
          "legend": {"title": null, "orient": "none", "direction": "vertical", "legendX": 391, "legendY": -14, "symbolType": "stroke", "symbolSize": 2116, "symbolStrokeWidth": 1.5, "clipHeight": 14, "rowPadding": 6.5, "padding": 10, "labelOffset": 6, "labelFontSize": 22, "labelFont": "Liberation Sans", "labelColor": "black", "strokeColor": "black", "fillColor": "white", "cornerRadius": 0, "labelLimit": 200}},
        "detail": {"field": "p"},
        "order": {"value": null}
      }
    },
    {
      "data": {"name": "tr"},
      "transform": [{"filter": "datum.s === '0.6 g'"}],
      "mark": {"type": "line", "strokeWidth": 2.6, "clip": true},
      "encoding": {
        "x": {"field": "x", "type": "quantitative"},
        "y": {"field": "y", "type": "quantitative"},
        "color": {"field": "s", "type": "nominal"},
        "detail": {"field": "p"},
        "order": {"value": null}
      }
    },
    {
      "data": {"name": "tr"},
      "transform": [{"filter": "datum.s === '0.4 g'"}],
      "mark": {"type": "line", "strokeWidth": 3.5, "clip": true},
      "encoding": {
        "x": {"field": "x", "type": "quantitative"},
        "y": {"field": "y", "type": "quantitative"},
        "color": {"field": "s", "type": "nominal"},
        "detail": {"field": "p"},
        "order": {"value": null}
      }
    },
    {
      "data": {"name": "tr"},
      "transform": [{"filter": "datum.s === '0.2 g'"}],
      "mark": {"type": "line", "strokeWidth": 3, "clip": true},
      "encoding": {
        "x": {"field": "x", "type": "quantitative"},
        "y": {"field": "y", "type": "quantitative"},
        "color": {"field": "s", "type": "nominal"},
        "detail": {"field": "p"},
        "order": {"value": null}
      }
    },
    {
      "data": {"name": "tr"},
      "transform": [{"filter": "datum.s === '0.1 g'"}],
      "mark": {"type": "line", "strokeWidth": 5.5, "clip": true},
      "encoding": {
        "x": {"field": "x", "type": "quantitative"},
        "y": {"field": "y", "type": "quantitative"},
        "color": {"field": "s", "type": "nominal"},
        "detail": {"field": "p"},
        "order": {"value": null}
      }
    },
    {
      "data": {"name": "trap"},
      "mark": {"type": "line", "color": "black", "strokeWidth": 4.5, "strokeJoin": "miter", "strokeCap": "square"},
      "encoding": {
        "x": {"field": "x", "type": "quantitative"},
        "y": {"field": "y", "type": "quantitative"},
        "order": {"value": null}
      }
    },
    {
      "data": {"name": "boxes"},
      "mark": {"type": "rect", "fill": "white", "stroke": "#222", "strokeWidth": 1},
      "encoding": {
        "x": {"field": "x1", "type": "quantitative"},
        "x2": {"field": "x2"},
        "y": {"field": "y1", "type": "quantitative"},
        "y2": {"field": "y2"}
      }
    },
    {
      "data": {"name": "boxes"},
      "mark": {"type": "text", "font": "Liberation Sans", "fontSize": 19, "color": "black", "align": "center", "baseline": "middle"},
      "encoding": {
        "x": {"field": "tx", "type": "quantitative"},
        "y": {"field": "ty", "type": "quantitative"},
        "text": {"field": "t"}
      }
    },
    {
      "data": {"name": "arrows"},
      "mark": {"type": "rule", "color": "black", "strokeWidth": 1},
      "encoding": {
        "x": {"field": "x", "type": "quantitative"},
        "y": {"field": "y", "type": "quantitative"},
        "x2": {"field": "x2"},
        "y2": {"field": "y2"}
      }
    },
    {
      "data": {"name": "arrows"},
      "transform": [{"calculate": "atan2((datum.x2 - datum.x) * 75, (datum.y2 - datum.y) * 64.1) * 180 / PI", "as": "ang"}],
      "mark": {"type": "point", "shape": "M0,0L0.5,1.6L0,1.3L-0.5,1.6Z", "filled": true, "color": "black", "opacity": 1, "size": 225, "strokeWidth": 0},
      "encoding": {
        "x": {"field": "x2", "type": "quantitative"},
        "y": {"field": "y2", "type": "quantitative"},
        "angle": {"field": "ang", "type": "quantitative", "scale": null}
      }
    }
  ]
}
